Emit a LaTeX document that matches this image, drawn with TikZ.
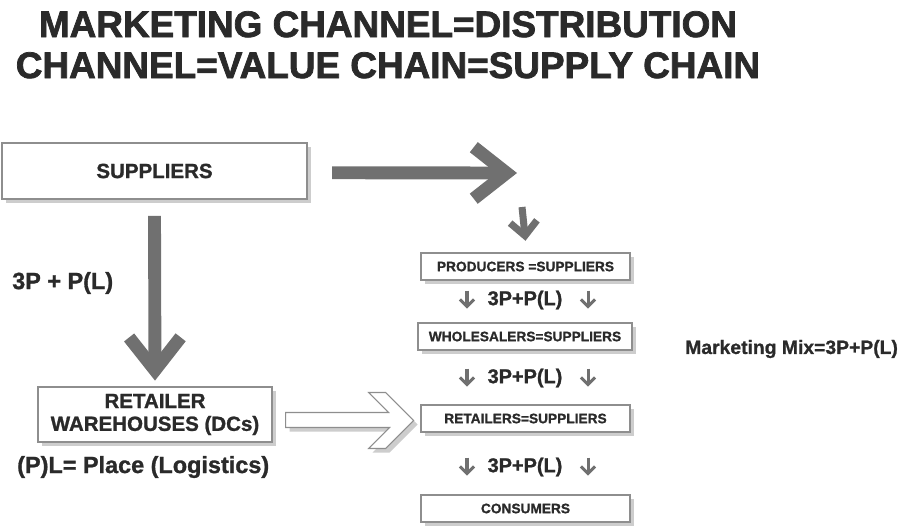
\documentclass[tikz,border=0pt]{standalone}
\usepackage{fontspec}
\setmainfont{Liberation Sans}
\usetikzlibrary{arrows.meta,shadows}

\definecolor{inkgrey}{HTML}{2A2A2A}
\definecolor{arrowgrey}{HTML}{707070}
\definecolor{framegrey}{HTML}{8E8E8E}
\definecolor{shadegrey}{HTML}{CDCDCD}

\newcommand{\heavy}[1]{\bfseries\addfontfeature{FakeBold=#1}}

\tikzset{
  chainbox/.style={draw=framegrey, line width=0.9pt, fill=white, text=inkgrey,
    font=\heavy{1}\fontsize{11.7}{13}\selectfont, minimum width=6.27cm, minimum height=0.81cm,
    inner sep=0pt, drop shadow={shadow xshift=3.5pt, shadow yshift=-3.5pt, fill=shadegrey, opacity=1}},
  bigbox/.style={chainbox, font=\heavy{1.2}\fontsize{17.5}{19.5}\selectfont, align=center},
  titletext/.style={text=inkgrey, font=\heavy{2}\fontsize{31.5}{35}\selectfont, inner sep=0pt},
  sidetext/.style={text=inkgrey, font=\heavy{1.2}\fontsize{20}{22}\selectfont, inner sep=0pt},
  mixtext/.style={text=inkgrey, font=\heavy{1}\fontsize{16.5}{18}\selectfont, inner sep=0pt},
  rowtext/.style={text=inkgrey, font=\heavy{1.2}\fontsize{17}{19}\selectfont, inner sep=0pt},
  bigarrow/.style={draw=arrowgrey, line width=11pt, -{Straight Barb[length=28pt, width=44pt, sharp]}},
  midarrow/.style={draw=arrowgrey, line width=6pt, -{Straight Barb[length=12pt, width=23pt, sharp]}},
  tinyarrow/.style={draw=arrowgrey, line width=2.6pt, -{Straight Barb[length=6pt, width=12pt, sharp]}},
  openarrow/.style={draw=framegrey, line width=0.9pt, fill=white, line join=miter}
}

\begin{document}
\begin{tikzpicture}[x=0.03cm, y=-0.03cm]
  \useasboundingbox (0,0) rectangle (902,526);

  % title
  \node[titletext, anchor=base] (title1) at (388,37) {MARKETING CHANNEL=DISTRIBUTION};
  \node[titletext, anchor=base] (title2) at (388,78) {CHANNEL=VALUE CHAIN=SUPPLY CHAIN};

  % left side
  \node[bigbox, minimum width=9.15cm, minimum height=1.68cm] (suppliers) at (154.5,171) {SUPPLIERS};
  \node[bigbox, minimum width=7.02cm, minimum height=1.65cm] (warehouse) at (155,414.5) {RETAILER\\WAREHOUSES (DCs)};
  \node[sidetext, anchor=west] (pplus) at (12,283) {3P + P(L)};
  \node[sidetext, anchor=west] (place) at (17,467) {(P)L= Place (Logistics)};

  % right column
  \node[chainbox] (producers) at (525.5,266.5) {PRODUCERS =SUPPLIERS};
  \node[chainbox, minimum width=6.42cm] (wholesalers) at (525,336.5) {WHOLESALERS=SUPPLIERS};
  \node[chainbox] (retailers) at (525.5,418.5) {RETAILERS=SUPPLIERS};
  \node[chainbox] (consumers) at (525.5,508.5) {CONSUMERS};
  \node[mixtext, anchor=west] (mix) at (685,349) {Marketing Mix=3P+P(L)};

  \foreach \r/\y in {1/300, 2/378, 3/467} {
    \node[rowtext] (row\r) at (525,\y) {3P+P(L)};
    \draw[tinyarrow] ([xshift=-49.5pt, yshift=8pt]row\r.center) -- ++(0,18);
    \draw[tinyarrow] ([xshift=53.8pt, yshift=8pt]row\r.center) -- ++(0,18);
  }

  % arrows
  \draw[bigarrow] ([yshift=-14pt]suppliers.south) -- ([yshift=5pt]warehouse.north);
  \coordinate (across) at (517,173);
  \coordinate (drop) at (522,207);
  \draw[bigarrow] ([xshift=21pt, yshift=-1.5pt]suppliers.east) -- (across);
  \draw[midarrow] (drop) -- ([yshift=10pt]producers.north);

  \begin{scope}[shift={(warehouse.east)}]
    \fill[shadegrey] (17,2) -- (120,2) -- (100,-18) -- (117,-18) -- (145,10) -- (117,38)
      -- (100,38) -- (121,17) -- (17,17) -- cycle;
    \draw[openarrow] (13,-2) -- (116,-2) -- (96,-22) -- (113,-22) -- (141,6) -- (113,34)
      -- (96,34) -- (117,13) -- (13,13) -- cycle;
  \end{scope}
\end{tikzpicture}
\end{document}
